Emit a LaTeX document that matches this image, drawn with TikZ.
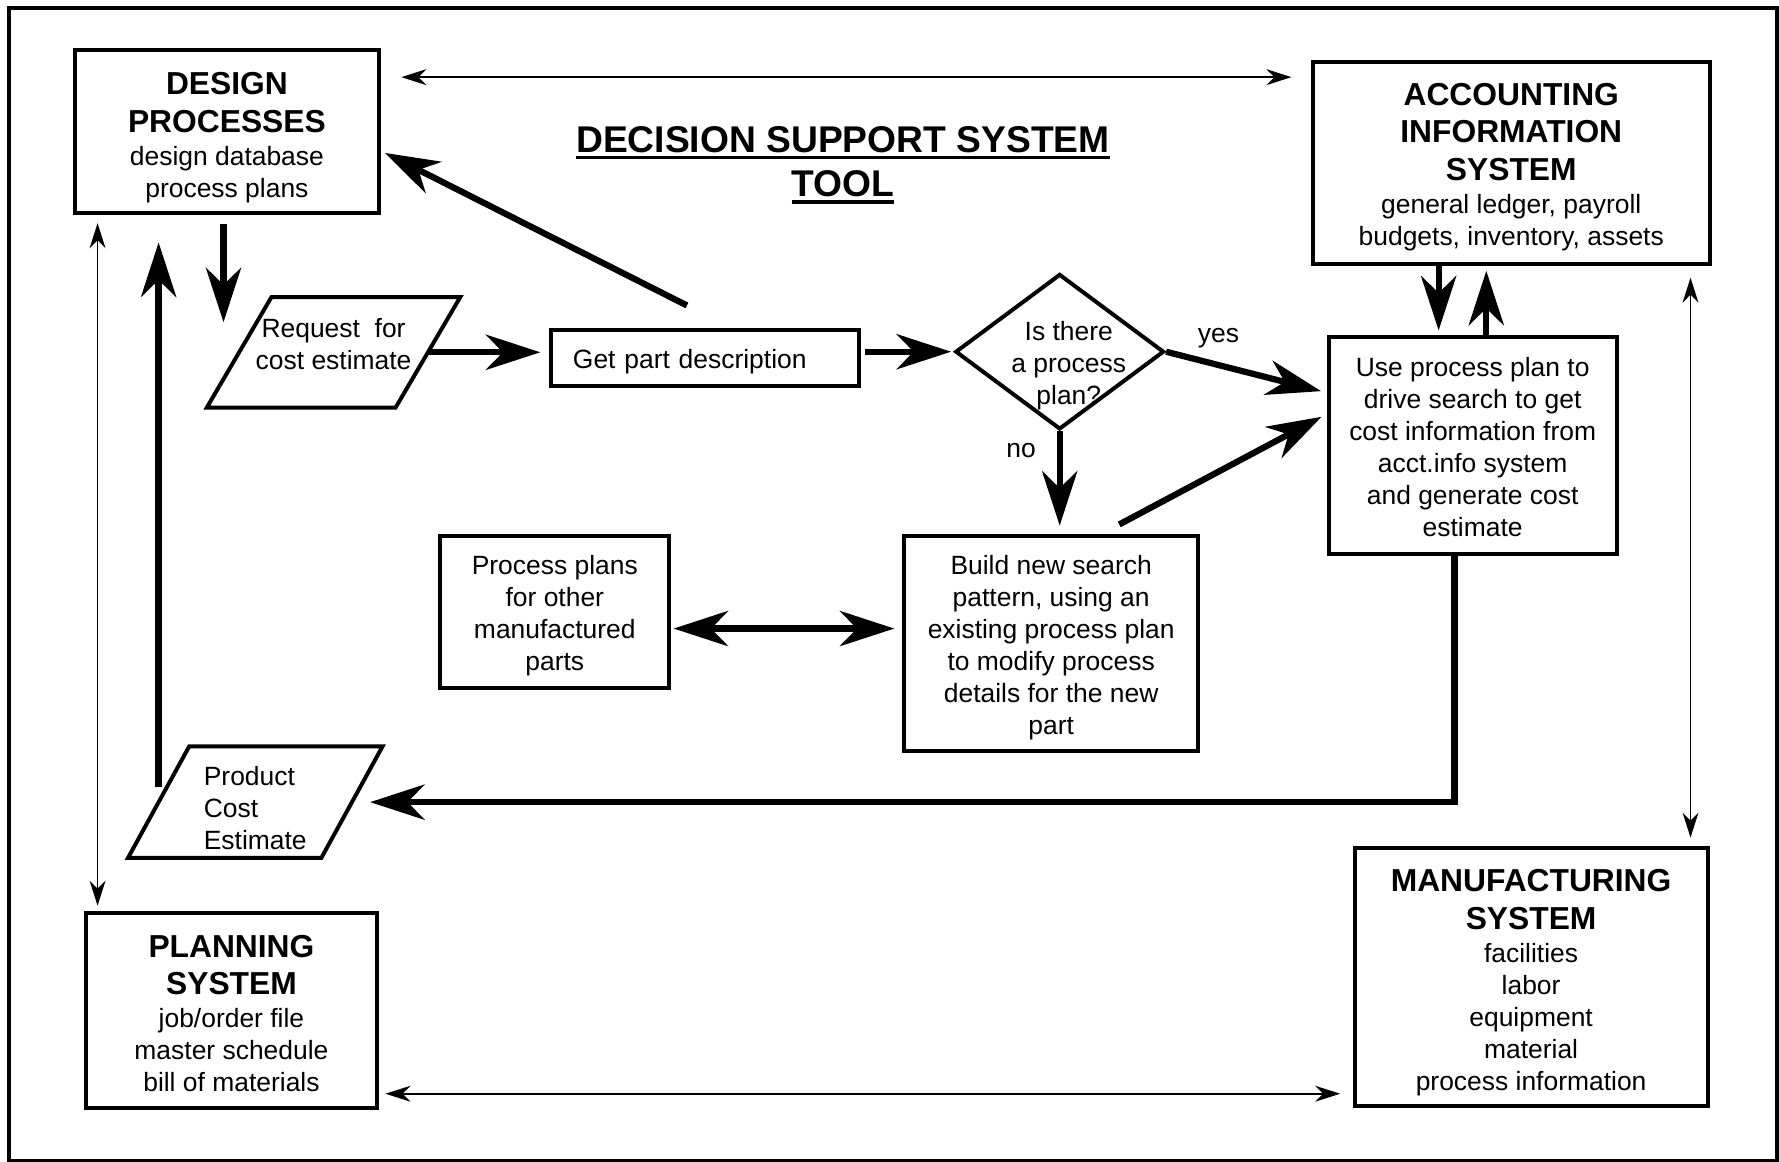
\documentclass[tikz,border=0pt]{standalone}
\usepackage{fontspec}
\setmainfont{Liberation Sans}
\usetikzlibrary{arrows.meta,shapes.geometric}

\newcommand{\headtxt}[1]{{\fontsize{28pt}{33pt}\selectfont\bfseries #1}}
\newcommand{\titleul}[1]{\setbox0=\hbox{#1}\rlap{\rule[-6pt]{\wd0}{3pt}}\box0}
\newcommand{\padtop}[1]{\rule{0pt}{#1}}

\begin{document}
\begin{tikzpicture}[x=1pt, y=-1pt,
    font=\fontsize{23.3pt}{28.2pt}\selectfont,
    sysbox/.style={draw, line width=3.5pt, align=center, inner sep=0pt},
    iobox/.style={inner sep=0pt},
    outline/.style={line width=3.5pt, line join=miter},
    decbox/.style={draw, diamond, line width=3.5pt, inner sep=0pt},
    bigarrow/.style={line width=5.5pt, -{Stealth[length=48pt, width=31pt, inset=15pt]}},
    bigboth/.style={line width=5.5pt, {Stealth[length=48pt, width=31pt, inset=15pt]}-{Stealth[length=48pt, width=31pt, inset=15pt]}},
    link/.style={line width=1.5pt, {Stealth[length=22pt, width=14pt, inset=7pt]}-{Stealth[length=22pt, width=14pt, inset=7pt]}}]
    \useasboundingbox (0,0) rectangle (1568,1024);
    \draw[line width=3.5pt] (8,7) rectangle (1566.5,1023);

    % systems
    \node[sysbox, minimum width=268pt, minimum height=144pt] (design) at (200,116)
        {\padtop{30pt}\headtxt{DESIGN}\\[5pt]\headtxt{PROCESSES}\\[1pt]design database\\process plans};
    \node[sysbox, minimum width=350pt, minimum height=178pt] (acct) at (1332,144)
        {\padtop{26pt}\headtxt{ACCOUNTING}\\[5pt]\headtxt{INFORMATION}\\[5pt]\headtxt{SYSTEM}\\[1pt]general ledger, payroll\\budgets, inventory, assets};
    \node[sysbox, minimum width=256pt, minimum height=172pt] (planning) at (204,891)
        {\padtop{24pt}\headtxt{PLANNING}\\[5pt]\headtxt{SYSTEM}\\[1pt]job/order file\\master schedule\\bill of materials};
    \node[sysbox, minimum width=311pt, minimum height=228pt] (manuf) at (1349.5,861)
        {\padtop{30pt}\headtxt{MANUFACTURING}\\[5pt]\headtxt{SYSTEM}\\[1pt]facilities\\labor\\equipment\\material\\process information};

    \node[font=\fontsize{32.8pt}{39pt}\selectfont\bfseries, align=center] (title) at (743,145.5)
        {\titleul{DECISION SUPPORT SYSTEM}\\\titleul{TOOL}};

    % tool steps
    \node[sysbox, inner xsep=19pt, text width=233pt, align=left, minimum height=49pt] (getpart) at (621.5,315.5)
        {\padtop{23pt}Get part description};
    \node[decbox, minimum width=184pt, minimum height=137pt] (dec) at (934,310) {};
    \node[align=center] (dectext) at (942,322) {Is there\\a process\\plan?};
    \node[sysbox, minimum width=254pt, minimum height=191pt] (useplan) at (1298,392.5)
        {\padtop{20pt}Use process plan to\\drive search to get\\cost information from\\acct.info system\\and generate cost\\estimate};
    \node[sysbox, minimum width=202pt, minimum height=134pt] (procplans) at (489,539)
        {\padtop{24pt}Process plans\\for other\\manufactured\\parts};
    \node[sysbox, minimum width=259pt, minimum height=190pt] (build) at (926.5,567)
        {\padtop{24pt}Build new search\\pattern, using an\\existing process plan\\to modify process\\details for the new\\part};

    % input / output
    \node[iobox, minimum width=166pt, minimum height=97pt, align=center] (request) at (294,310.5)
        {Request~ for\\cost estimate\rule[-14pt]{0pt}{14pt}};
    \draw[outline] ([xshift=28.5pt]request.north west) -- ([xshift=28.5pt]request.north east)
        -- ([xshift=-28.5pt]request.south east) -- ([xshift=-28.5pt]request.south west) -- cycle;
    \node[iobox, minimum width=170pt, minimum height=98pt, align=left] (product) at (225,707)
        {\padtop{27pt}Product\\Cost\\Estimate};
    \draw[outline] ([xshift=27pt]product.north west) -- ([xshift=27pt]product.north east)
        -- ([xshift=-27pt]product.south east) -- ([xshift=-27pt]product.south west) -- cycle;

    % links between systems
    \draw[link, shorten <=18pt, shorten >=17pt] (design.east |- 0,68) -- (acct.west |- 0,68);
    \draw[link, shorten <=7pt, shorten >=5pt] (86,0 |- design.south) -- (86,0 |- planning.north);
    \draw[link, shorten <=6pt, shorten >=11pt] (planning.east |- 0,964) -- (manuf.west |- 0,964);
    \draw[link, shorten <=10pt, shorten >=7pt] (1490,0 |- acct.south) -- (1490,0 |- manuf.north);

    % flow
    \coordinate (reqtip) at (197,284);
    \draw[bigarrow, shorten <=8pt] (reqtip |- design.south) -- (reqtip);
    \draw[bigarrow, shorten >=8pt] (request.east) -- (getpart.west |- request.east);
    \draw[bigarrow, shorten <=4pt, shorten >=2pt] (getpart.east |- dec.west) -- (dec.west);
    \draw[bigarrow, shorten >=4pt] (getpart.north) ++(-16,-20) -- ([yshift=-17pt]design.east);
    \draw[bigarrow, shorten >=5pt] (dec.east) -- (useplan.west |- 0,346);
    \node (yes) at (1074,298) {yes};
    \draw[bigarrow, shorten >=7pt] (dec.south) -- (build.north -| dec.south);
    \node (no) at (900,397) {no};
    \draw[bigarrow, shorten >=5pt] (build.north) ++(60,-8) -- (useplan.west |- 0,365);
    \draw[bigarrow, shorten >=4pt] (1268,0 |- acct.south) -- (1268,0 |- useplan.north);
    \draw[bigarrow, shorten >=4pt] (1310,0 |- useplan.north) -- (1310,0 |- acct.south);
    \draw[bigboth, shorten <=2pt, shorten >=7pt] (procplans.east |- 0,554) -- (build.west |- 0,554);
    \draw[bigarrow, shorten >=16pt] (1282,0 |- useplan.south) |- (product.east);
    \draw[bigarrow, shorten >=24pt] (product.west) ++(0,-13) -- (product.west |- design.south);
\end{tikzpicture}
\end{document}
